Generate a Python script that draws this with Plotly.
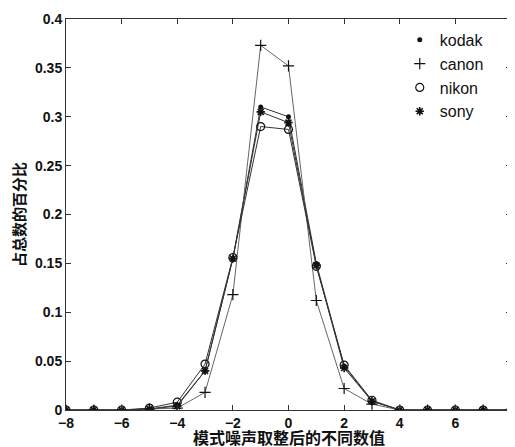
import plotly.graph_objects as go

x_vals = [-8, -7, -6, -5, -4, -3, -2, -1, 0, 1, 2, 3, 4, 5, 6, 7, 8]
kodak = [0, 0, 0, 0.001, 0.005, 0.040, 0.155, 0.310, 0.300, 0.150, 0.045, 0.009, 0, 0, 0, 0, 0]
canon = [0, 0, 0, 0.001, 0.002, 0.018, 0.118, 0.373, 0.352, 0.112, 0.022, 0.006, 0, 0, 0, 0, 0]
nikon = [0, 0, 0, 0.002, 0.008, 0.047, 0.156, 0.290, 0.287, 0.147, 0.046, 0.010, 0, 0, 0, 0, 0]
sony = [0, 0, 0, 0.001, 0.004, 0.040, 0.155, 0.305, 0.294, 0.148, 0.043, 0.009, 0, 0, 0, 0, 0]

x_ticks = [-8, -6, -4, -2, 0, 2, 4, 6, 8]
y_ticks = [0, 0.05, 0.1, 0.15, 0.2, 0.25, 0.3, 0.35, 0.4]
y_tick_text = ["0", "0.05", "0.1", "0.15", "0.2", "0.25", "0.3", "0.35", "0.4"]
x_title = "模式噪声取整后的不同数值"
y_title = "占总数的百分比"

series = [
    ("kodak", kodak, dict(symbol="circle", size=5, color="#111"), "#333"),
    ("canon", canon, dict(symbol="cross-thin", size=8, color="#111", line=dict(width=1.2, color="#111")), "#666"),
    ("nikon", nikon, dict(symbol="circle-open", size=8, color="#111", line=dict(width=1.2, color="#111")), "#333"),
    ("sony", sony, dict(symbol="asterisk-open", size=7, color="#111", line=dict(width=1.6, color="#111")), "#333"),
]

fig = go.Figure()
for name, ys, mk, lc in series:
    fig.add_trace(go.Scatter(x=x_vals, y=ys, mode="lines+markers", name=name,
                             line=dict(color=lc, width=1), marker=mk, showlegend=False))
for name, ys, mk, lc in series:
    fig.add_trace(go.Scatter(x=[None], y=[None], mode="markers", name=name,
                             marker=mk, showlegend=True))

axis_common = dict(showgrid=False, zeroline=False, showline=True, linecolor="#333", linewidth=1,
                   mirror="ticks", ticks="inside", ticklen=5, tickcolor="#333", automargin=False,
                   tickfont=dict(family="Liberation Sans, Arial", size=14, color="#111", weight="bold"))

# page body has an 8px default margin, so the figure is sized to fit the window
fig.update_layout(
    width=507, height=439,
    margin=dict(l=58, r=4, t=11, b=37),
    paper_bgcolor="white", plot_bgcolor="white",
    xaxis=dict(range=[-8, 8], tickvals=x_ticks, **axis_common),
    yaxis=dict(range=[0, 0.4], tickvals=y_ticks, ticktext=y_tick_text, **axis_common,
               title=dict(text=y_title, standoff=10,
                          font=dict(family="Noto Sans CJK SC", size=15, color="#111", weight="bold"))),
    legend=dict(x=0.75, y=0.99, xanchor="left", yanchor="top", bgcolor="rgba(0,0,0,0)",
                borderwidth=0, itemwidth=30, tracegroupgap=0,
                font=dict(family="Liberation Sans, Arial", size=16, color="#111")),
    annotations=[dict(text=x_title, xref="paper", yref="paper", x=0.5, y=0,
                      xanchor="center", yanchor="top", yshift=-13, showarrow=False,
                      font=dict(family="Noto Sans CJK SC", size=16, color="#111", weight="bold"))],
)

fig.write_html("out.html")
